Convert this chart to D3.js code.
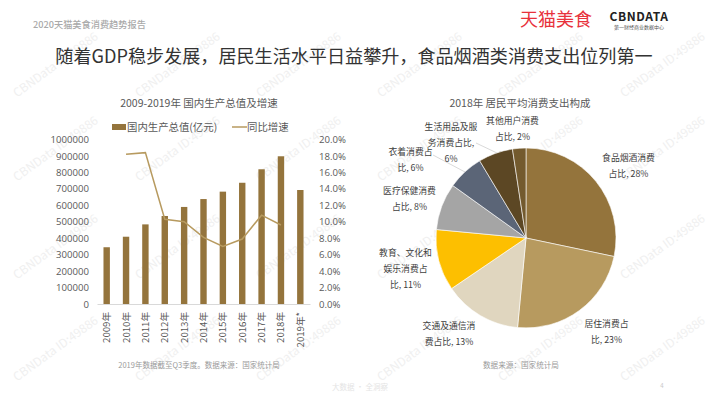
<!DOCTYPE html>
<html><head><meta charset="utf-8">
<script src="https://cdnjs.cloudflare.com/ajax/libs/d3/7.8.5/d3.min.js"></script>
<style>
html,body{margin:0;padding:0;background:#fff}
svg{display:block}
text{font-family:"Noto Sans CJK SC","Noto Sans",sans-serif}
</style></head><body>
<svg id="c" width="720" height="405"></svg>
<script>
const years=["2009年","2010年","2011年","2012年","2013年","2014年","2015年","2016年","2017年","2018年","2019年*"];
const gdp=[345000,409000,484000,535000,590000,638000,683000,737000,819000,898000,693000];
const growth=[null,18.2,18.4,10.3,10.0,8.1,7.0,7.9,10.8,9.6,null];
const leftTicks=[0,100000,200000,300000,400000,500000,600000,700000,800000,900000,1000000];
const rightTicks=[0,2,4,6,8,10,12,14,16,18,20];
const pieValues=[28.3,23.2,14.0,11.0,8.4,6.5,6.2,2.4];
const pieColors=["#94743c","#b79a5f","#e0d6bf","#fdbf00","#a5a5a5","#5b6577","#5c4724","#735a2e"];
const pieLabels=[
 ["食品烟酒消费","占比, 28%"],["居住消费占","比, 23%"],["交通及通信消","费占比, 13%"],
 ["教育、文化和","娱乐消费占","比, 11%"],["医疗保健消费","占比, 8%"],["衣着消费占","比, 6%"],
 ["生活用品及服","务消费占比,","6%"],["其他用户消费","占比, 2%"]];
const labelSpots=[[628.5,161],[606.5,327],[449,329],[405.5,256],[409.5,194],[410.5,154.5],[451,130],[512.5,123.5]];
const leaders=[null,null,null,null,null,[[433,155],[465,172]],[[476,143],[497,153]],null];
const wmX=[58,180,301,422,543,665];
const wmY=[68,152,250,352];

const svg=d3.select("#c");
const wm=svg.append("g");
wmY.forEach(y=>wmX.forEach(x=>{
  wm.append("text").attr("transform",`translate(${x},${y}) rotate(-36)`)
    .attr("text-anchor","middle").attr("font-size",12).attr("fill","#f0f0f0").text("CBNData ID:49886");
}));

svg.append("text").attr("x",33).attr("y",27.5).attr("font-size",9.2).attr("font-weight",500).attr("fill","#a9a9a9").text("2020天猫美食消费趋势报告");
svg.append("text").attr("x",354).attr("y",63).attr("text-anchor","middle").attr("font-size",18.1).attr("fill","#333").text("随着GDP稳步发展，居民生活水平日益攀升，食品烟酒类消费支出位列第一");
svg.append("text").attr("x",556).attr("y",26).attr("text-anchor","middle").attr("font-size",18).attr("fill","#e8323c").text("天猫美食");
svg.append("text").attr("x",639).attr("y",20.5).attr("text-anchor","middle").attr("font-size",12).attr("font-weight",700).attr("letter-spacing",0.6).attr("fill","#222").text("CBNDATA");
svg.append("text").attr("x",639).attr("y",29).attr("text-anchor","middle").attr("font-size",5).attr("fill","#555").text("第一财经商业数据中心");

// left chart
const x=d3.scaleBand().domain(years).range([97,310]);
const yL=d3.scaleLinear().domain([0,1000000]).range([304,139.5]);
const yR=d3.scaleLinear().domain([0,20]).range([304,139.5]);
svg.append("text").attr("x",199).attr("y",106.5).attr("text-anchor","middle").attr("font-size",10.5).attr("fill","#595959").text("2009-2019年 国内生产总值及增速");
// legend
svg.append("rect").attr("x",112).attr("y",124).attr("width",14).attr("height",6).attr("fill",pieColors[0]);
svg.append("text").attr("x",127).attr("y",130.5).attr("font-size",10.4).attr("fill","#595959").text("国内生产总值(亿元)");
svg.append("line").attr("x1",232).attr("x2",247).attr("y1",127).attr("y2",127).attr("stroke","#b79a5f").attr("stroke-width",1.5);
svg.append("text").attr("x",247).attr("y",130.5).attr("font-size",10.4).attr("fill","#595959").text("同比增速");

svg.append("g").selectAll("rect").data(years).join("rect")
  .attr("x",d=>x(d)+x.bandwidth()/2-3.2).attr("width",6.4)
  .attr("y",(d,i)=>yL(gdp[i])).attr("height",(d,i)=>304-yL(gdp[i])).attr("fill",pieColors[0]);
const line=d3.line().defined(d=>d.v!==null).x(d=>x(d.y)+x.bandwidth()/2).y(d=>yR(d.v));
svg.append("path").datum(years.map((y,i)=>({y,v:growth[i]}))).attr("d",line).attr("fill","none").attr("stroke","#b79a5f").attr("stroke-width",1.5);

const axL=svg.append("g").attr("transform","translate(89,0)").call(d3.axisLeft(yL).tickValues(leftTicks).tickSize(0).tickPadding(0).tickFormat(d3.format("d")));
axL.select(".domain").remove();
axL.selectAll("text").attr("font-size",9.6).attr("fill","#595959").style("font-family",'"Open Sans",sans-serif');
const axR=svg.append("g").attr("transform","translate(319,0)").call(d3.axisRight(yR).tickValues(rightTicks).tickSize(0).tickPadding(0).tickFormat(d=>d.toFixed(1)+"%"));
axR.select(".domain").remove();
axR.selectAll("text").attr("font-size",9.6).attr("fill","#595959").style("font-family",'"Open Sans",sans-serif');
const axB=svg.append("g").attr("transform","translate(0,304)").call(d3.axisBottom(x).tickSize(0).tickPadding(0));
axB.select(".domain").attr("stroke","#d9d9d9");
axB.selectAll("text").attr("font-size",9.6).attr("fill","#595959").attr("text-anchor","end").attr("dy",0)
  .attr("transform","translate(3.5,8) rotate(-90)");

svg.append("text").attr("x",199).attr("y",368).attr("text-anchor","middle").attr("font-size",7.5).attr("fill","#9a9a9a").text("2019年数据截至Q3季度。数据来源：国家统计局");

// pie
const cx=526,cy=238,r=90;
svg.append("text").attr("x",520).attr("y",106.5).attr("text-anchor","middle").attr("font-size",10.5).attr("fill","#595959").text("2018年 居民平均消费支出构成");
const pie=d3.pie().sort(null)(pieValues);
const arc=d3.arc().innerRadius(0).outerRadius(r);
svg.append("g").attr("transform",`translate(${cx},${cy})`).selectAll("path").data(pie).join("path")
  .attr("d",arc).attr("fill",(d,i)=>pieColors[i]).attr("stroke","#fff").attr("stroke-width",0.6);
leaders.forEach(l=>{ if(l) svg.append("line").attr("x1",l[0][0]).attr("y1",l[0][1]).attr("x2",l[1][0]).attr("y2",l[1][1]).attr("stroke","#bfbfbf").attr("stroke-width",0.6);});
pieLabels.forEach((ls,i)=>{
  const t=svg.append("text").attr("text-anchor","middle").attr("font-size",8.8).attr("fill","#404040");
  ls.forEach((s,k)=>t.append("tspan").attr("x",labelSpots[i][0]).attr("y",labelSpots[i][1]+k*16).text(s));
});
svg.append("text").attr("x",521).attr("y",368).attr("text-anchor","middle").attr("font-size",7.6).attr("fill","#9a9a9a").text("数据来源：国家统计局");
svg.append("text").attr("x",360).attr("y",389.5).attr("text-anchor","middle").attr("font-size",7.5).attr("fill","#e4e4e4").text("大数据 · 全洞察");
svg.append("text").attr("x",662).attr("y",388).attr("text-anchor","middle").attr("font-size",6).attr("fill","#c8c8c8").text("4");
</script></body></html>
